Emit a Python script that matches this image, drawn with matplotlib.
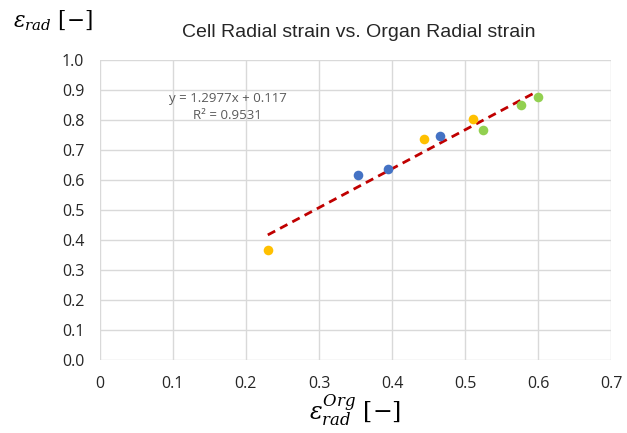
import matplotlib
matplotlib.use("Agg")
import matplotlib.pyplot as plt
import numpy as np

# organ radial strain (x) vs cell radial strain (y), three groups
blue_x = [0.354, 0.394, 0.466]
blue_y = [0.615, 0.635, 0.745]
yellow_x = [0.230, 0.444, 0.511]
yellow_y = [0.364, 0.734, 0.802]
green_x = [0.525, 0.577, 0.599]
green_y = [0.764, 0.847, 0.874]

# linear trend from the fit
slope = 1.2977
intercept = 0.117
r2 = 0.9531

fig = plt.figure(figsize=(6.27, 4.33), dpi=100)
ax = fig.add_axes([0.159, 0.1695, 0.816, 0.693])

plt.rcParams['mathtext.fontset'] = 'dejavuserif'

ax.scatter(blue_x, blue_y, s=48, color='#4472C4', zorder=3, linewidths=0)
ax.scatter(yellow_x, yellow_y, s=48, color='#FFC000', zorder=3, linewidths=0)
ax.scatter(green_x, green_y, s=48, color='#92D050', zorder=3, linewidths=0)

all_x = blue_x + yellow_x + green_x
xs = np.array([min(all_x), max(all_x)])
ax.plot(xs, slope * xs + intercept, color='#C00000', lw=2, ls=(0, (3, 2)), zorder=2)

ax.set_xlim(0, 0.7)
ax.set_ylim(0, 1.0)
ax.set_xticks(np.arange(0, 0.71, 0.1))
ax.set_yticks(np.arange(0, 1.01, 0.1))
ax.set_xticklabels(['0'] + ['%.1f' % v for v in np.arange(0.1, 0.71, 0.1)])
ax.set_yticklabels(['%.1f' % v for v in np.arange(0, 1.01, 0.1)])
ax.grid(True, color='#D9D9D9', lw=1)
ax.set_axisbelow(True)
for s in ax.spines.values():
    s.set_visible(False)
ax.tick_params(length=0, labelsize=11.5, colors='#262626')
ax.tick_params(axis='x', pad=12)
ax.tick_params(axis='y', pad=11)
for lab in ax.get_xticklabels() + ax.get_yticklabels():
    lab.set_family('Open Sans')

ax.text(0.175, 0.841, 'y = %.4fx + %.3f\nR\u00b2 = %.4f' % (slope, intercept, r2), ha='center',
        va='center', fontsize=9.5, color='#595959', family='Open Sans', linespacing=1.45)

fig.text(0.5726, 0.926, 'Cell Radial strain vs. Organ Radial strain', ha='center', va='center',
         fontsize=14, family='Liberation Sans', color='#262626')
fig.text(0.084, 0.952, r'$\varepsilon_{rad}$ [$-$]', ha='center', va='center', fontsize=15.5,
         family='DejaVu Serif')
fig.text(0.566, 0.053, r'$\varepsilon_{rad}^{Org}$ [$-$]', ha='center', va='center', fontsize=17,
         family='DejaVu Serif')

fig.savefig('out.png', dpi=100)
